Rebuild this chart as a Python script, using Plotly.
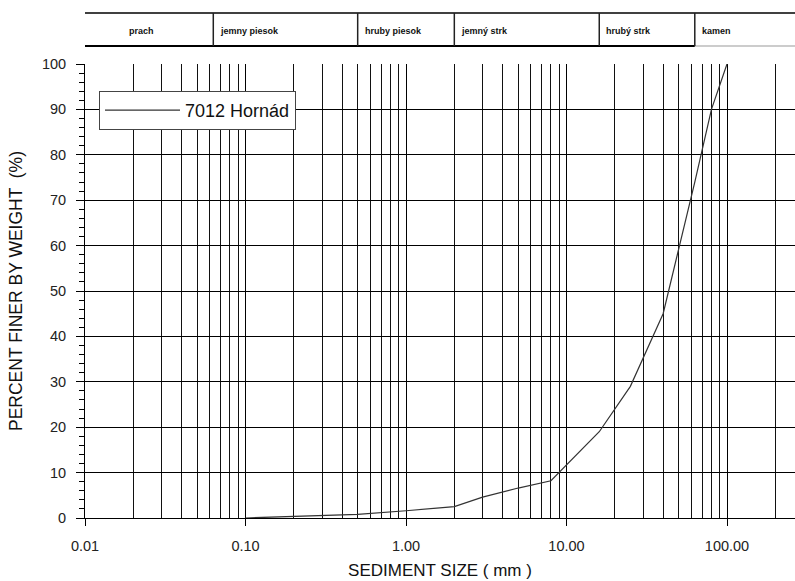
import numpy as np
import plotly.graph_objects as go

# Grain-size distribution, sample 7012 Hornád
size_mm = [0.1, 0.25, 0.5, 1.0, 2.0, 3.0, 4.0, 5.0, 8.0, 16.0, 25.0, 40.0, 63.0, 80.0, 100.0]
pct_finer = [0.0, 0.4, 0.8, 1.6, 2.5, 4.6, 5.8, 6.6, 8.2, 19.0, 29.0, 45.0, 74.0, 90.0, 100.0]
series_name = "7012 Hornád"

# Soil classes shown in the header band (lower bound in mm)
class_names = ["prach", "jemny piesok", "hruby piesok", "jemný strk", "hrubý strk", "kamen"]
class_bounds = [0.01, 0.063, 0.5, 2.0, 16.0, 63.0]

x_major = [0.01, 0.1, 1, 10, 100]
x_major_text = ["0.01", "0.10", "1.00", "10.00", "100.00"]
x_minor = [m * d for d in [0.01, 0.1, 1, 10, 100] for m in range(2, 10) if m * d <= 260]

W, H = 795, 581
L, R, T, B = 85, 0, 64, 63
x_lo, x_hi = -2.0, -2.0 + (W - L - R) / 160.5

fig = go.Figure()
fig.add_trace(go.Scatter(
    x=size_mm, y=pct_finer, mode="lines", name=series_name,
    line=dict(color="#333333", width=1.2),
))

shapes = []
# header band geometry (paper y above the plot)
ph = H - T - B
y_bot = 1 + 18 / ph
y_top = 1 + 51 / ph
x_right = 10 ** x_hi
shapes.append(dict(type="line", xref="x", yref="paper", x0=0.0097, x1=x_right, y0=y_top, y1=y_top,
                   line=dict(color="black", width=1.5)))
shapes.append(dict(type="line", xref="x", yref="paper", x0=0.0097, x1=class_bounds[-1], y0=y_bot, y1=y_bot,
                   line=dict(color="black", width=2)))
shapes.append(dict(type="line", xref="x", yref="paper", x0=class_bounds[-1], x1=x_right, y0=y_bot, y1=y_bot,
                   line=dict(color="#999999", width=1)))
shapes.append(dict(type="line", xref="x", yref="paper", x0=0.0097, x1=0.0097, y0=y_bot, y1=y_top,
                   line=dict(color="black", width=2)))
for b in class_bounds[1:]:
    shapes.append(dict(type="line", xref="x", yref="paper", x0=b, x1=b, y0=y_bot, y1=y_top,
                       line=dict(color="#222222", width=1.5)))

annotations = []
for i, (name, b) in enumerate(zip(class_names, class_bounds)):
    annotations.append(dict(
        x=np.log10(b), y=(y_bot + y_top) / 2, xref="x", yref="paper",
        text="<b>" + name + "</b>", showarrow=False, xanchor="left", yanchor="middle",
        xshift=42 if i == 0 else 5, yshift=-2,
        font=dict(family="Liberation Sans, Arial, sans-serif", size=9, color="#111111"),
    ))

fig.update_layout(
    width=W, height=H,
    margin=dict(l=L, r=R, t=T, b=B, pad=0),
    paper_bgcolor="white", plot_bgcolor="white",
    font=dict(family="Liberation Sans, Arial, sans-serif", color="#222222"),
    showlegend=True,
    legend=dict(
        x=(99 - L) / (W - L - R), y=1 - (91 - T) / ph, xanchor="left", yanchor="top",
        bgcolor="white", bordercolor="#444444", borderwidth=1,
        font=dict(size=18, color="#111111"), itemwidth=75,
        tracegroupgap=0,
    ),
    shapes=shapes,
    annotations=annotations,
    xaxis=dict(
        type="log", range=[x_lo, x_hi],
        tickvals=x_major, ticktext=x_major_text,
        ticks="outside", ticklen=7, tickcolor="black", tickwidth=1,
        ticklabelstandoff=8,
        showgrid=True, gridcolor="black", gridwidth=1,
        showline=True, linecolor="black", linewidth=1,
        tickfont=dict(size=14.5, color="#222222"),
        minor=dict(tickvals=x_minor, showgrid=True, gridcolor="#111111", gridwidth=1, ticks=""),
        title=dict(text="SEDIMENT SIZE ( mm )", font=dict(size=17, color="#111111"), standoff=10),
        zeroline=False,
    ),
    yaxis=dict(
        range=[0, 100], tickvals=list(range(0, 101, 10)),
        ticks="outside", ticklen=8, tickcolor="black",
        ticklabelstandoff=7,
        showgrid=True, gridcolor="black", gridwidth=1,
        showline=True, linecolor="black", linewidth=1,
        tickfont=dict(size=14.5, color="#222222"),
        minor=dict(dtick=2, ticks="outside", ticklen=5, tickcolor="black", showgrid=False),
        title=dict(text="PERCENT FINER BY WEIGHT  (%)", font=dict(size=17.5, color="#111111"), standoff=14),
        zeroline=False,
    ),
)

fig.write_html("out.html")
